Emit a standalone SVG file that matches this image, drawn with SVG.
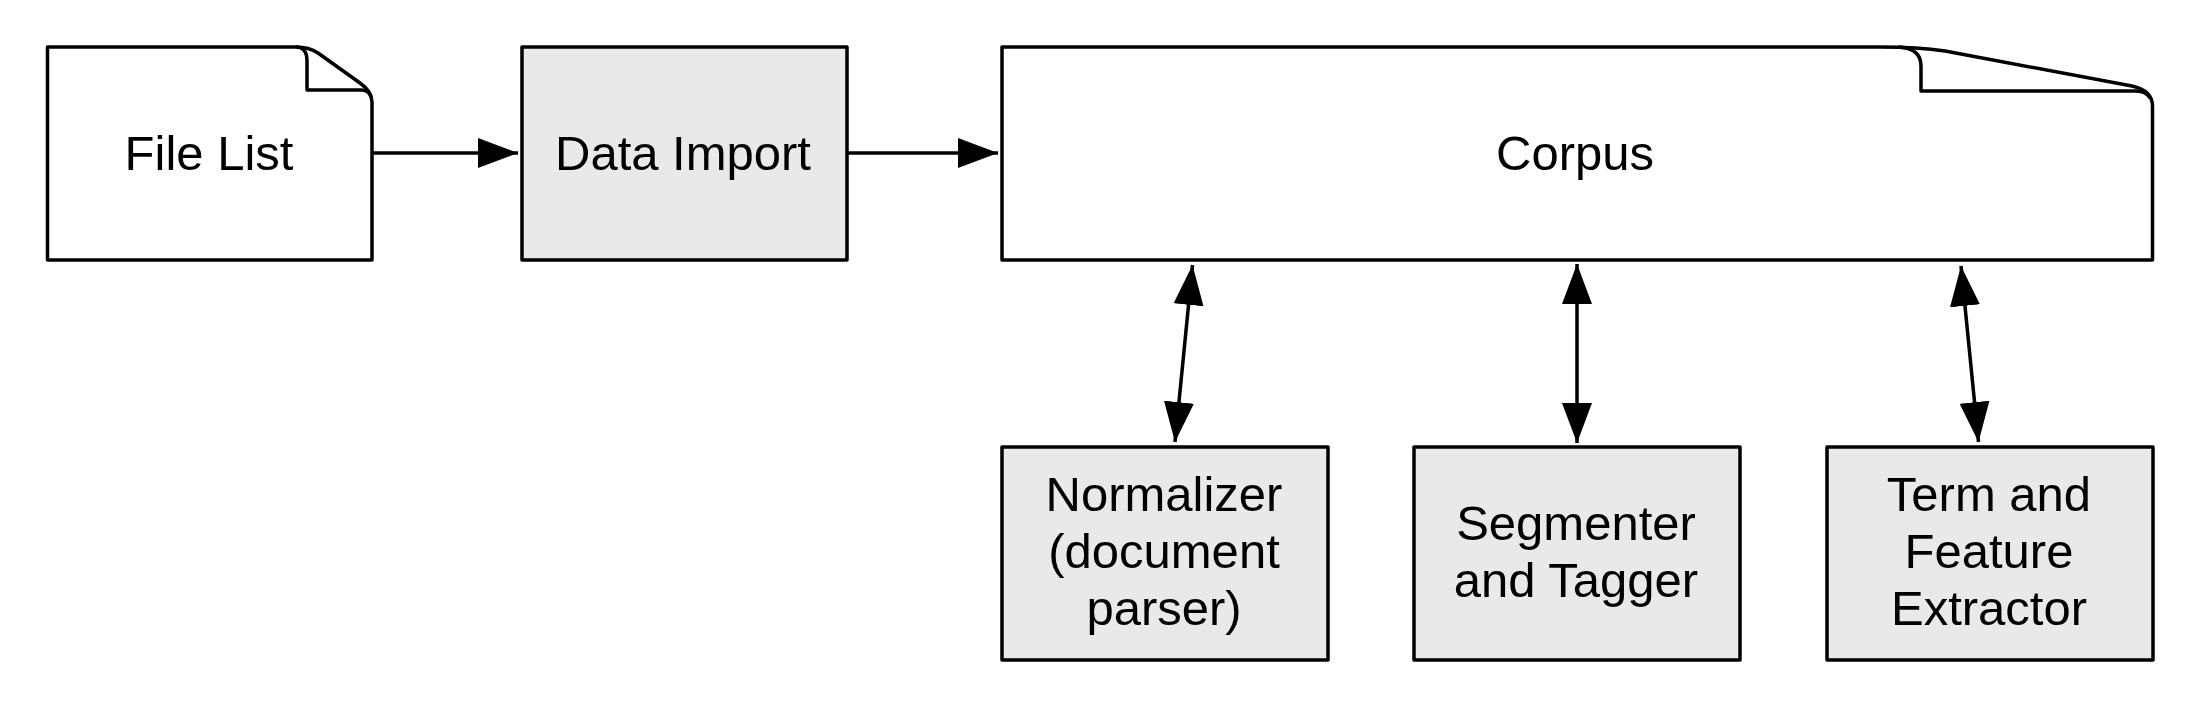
<svg xmlns="http://www.w3.org/2000/svg" width="2195" height="704" viewBox="0 0 2195 704">
<style>
.shape{stroke:#000;stroke-width:3.5;stroke-linejoin:round;}
.doc{fill:#fff;}
.proc{fill:#e9e9e9;}
.fold{fill:#fff;stroke:#000;stroke-width:3.5;stroke-linejoin:round;}
.lbl{font-family:"Liberation Sans",Arial,Helvetica,sans-serif;font-size:49px;fill:#000;text-anchor:middle;}
.conn{stroke:#000;stroke-width:3.5;fill:none;}
</style>
<defs>
<marker id="ah" markerUnits="userSpaceOnUse" markerWidth="40" markerHeight="30" refX="40" refY="15" orient="auto-start-reverse" viewBox="0 0 40 30">
<path d="M0,0 L40,15 L0,30 Z" fill="#000"/>
</marker>
</defs>
<rect width="2195" height="704" fill="#fff"/>
<g id="connectors">
<line class="conn" x1="372" y1="153" x2="518" y2="153" marker-end="url(#ah)"/>
<line class="conn" x1="847" y1="153" x2="998" y2="153" marker-end="url(#ah)"/>
<line class="conn" x1="1192.5" y1="265" x2="1175" y2="442" marker-start="url(#ah)" marker-end="url(#ah)"/>
<line class="conn" x1="1577" y1="264" x2="1577" y2="443" marker-start="url(#ah)" marker-end="url(#ah)"/>
<line class="conn" x1="1961" y1="266" x2="1978.5" y2="442" marker-start="url(#ah)" marker-end="url(#ah)"/>
</g>
<g id="file-list">
<path class="shape doc" d="M47.5,47 L296,47 C305,47 312,49 318,53 L360,83 C367,88 372,94 372,102 L372,260 L47.5,260 Z"/>
<path class="fold" d="M296,47 Q307,47 307,61 L307,90 L361,90 Q369,90 371,97"/>
<text class="lbl" x="209" y="170">File List</text>
</g>
<g id="data-import">
<rect class="shape proc" x="522" y="47" width="325" height="213"/>
<text class="lbl" x="683" y="170">Data Import</text>
</g>
<g id="corpus">
<path class="shape doc" d="M1002,47 L1880,47 C1905,47 1925,48 1945,51 L2132,86 C2145,89 2152.5,96 2152.5,106 L2152.5,260 L1002,260 Z"/>
<path class="fold" d="M1898,47 Q1921,48 1921,66 L1921,91 L2136,91 Q2146,91 2150,98"/>
<text class="lbl" x="1575" y="170">Corpus</text>
</g>
<g id="normalizer">
<rect class="shape proc" x="1002" y="447" width="326" height="213"/>
<text class="lbl" x="1164" y="511">Normalizer</text>
<text class="lbl" x="1164" y="568">(document</text>
<text class="lbl" x="1164" y="625">parser)</text>
</g>
<g id="segmenter">
<rect class="shape proc" x="1414" y="447" width="326" height="213"/>
<text class="lbl" x="1576" y="540">Segmenter</text>
<text class="lbl" x="1576" y="597">and Tagger</text>
</g>
<g id="extractor">
<rect class="shape proc" x="1827" y="447" width="326" height="213"/>
<text class="lbl" x="1989" y="511">Term and</text>
<text class="lbl" x="1989" y="568">Feature</text>
<text class="lbl" x="1989" y="625">Extractor</text>
</g>
</svg>
